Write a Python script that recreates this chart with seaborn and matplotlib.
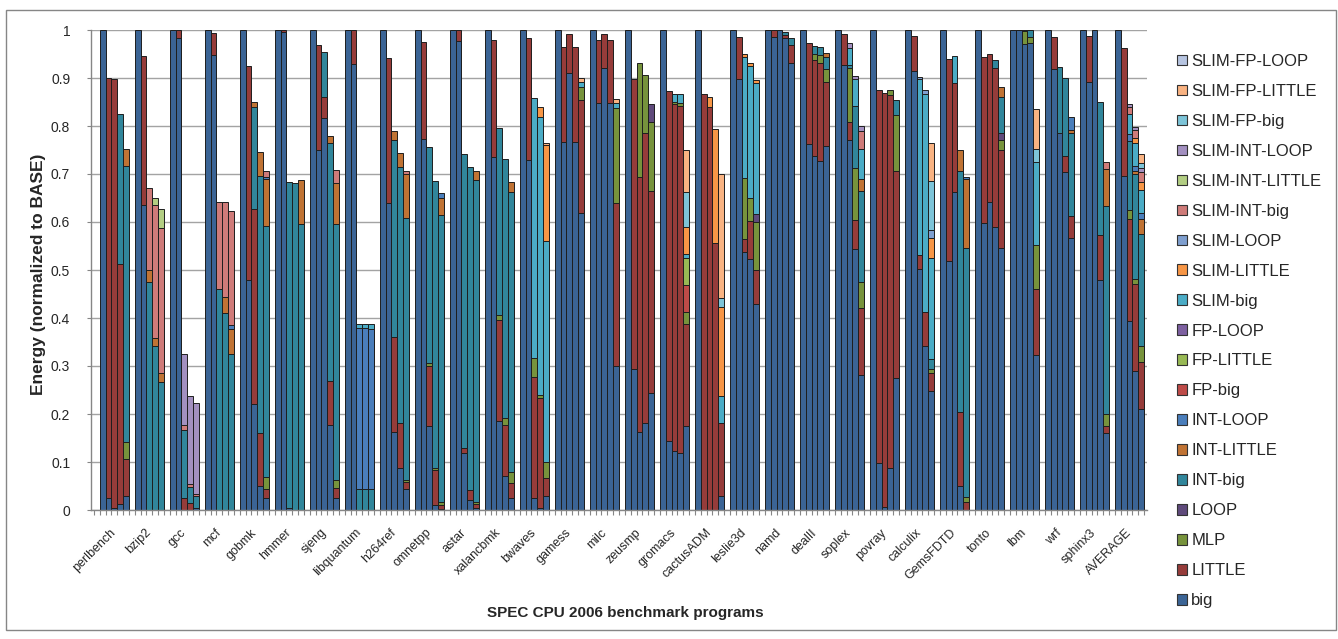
import numpy as np
import pandas as pd
import matplotlib
matplotlib.use("Agg")
import matplotlib.pyplot as plt
from matplotlib.patches import Patch, Rectangle
import seaborn as sns


# ---------------------------------
# 1. DATA
# ---------------------------------

benchmarks = ["perlbench", "bzip2", "gcc", "mcf", "gobmk", "hmmer", "sjeng",
              "libquantum", "h264ref", "omnetpp", "astar", "xalancbmk", "bwaves",
              "gamess", "milc", "zeusmp", "gromacs", "cactusADM", "leslie3d",
              "namd", "dealII", "soplex", "povray", "calculix", "GemsFDTD",
              "tonto", "lbm", "wrf", "sphinx3", "AVERAGE"]

series_codes = {"B": "big", "L": "LITTLE", "M": "MLP", "P": "LOOP",
                "IB": "INT-big", "IL": "INT-LITTLE", "IP": "INT-LOOP",
                "FB": "FP-big", "FL": "FP-LITTLE", "FP": "FP-LOOP",
                "SB": "SLIM-big", "SL": "SLIM-LITTLE", "SP": "SLIM-LOOP",
                "SIB": "SLIM-INT-big", "SIL": "SLIM-INT-LITTLE", "SIP": "SLIM-INT-LOOP",
                "SFB": "SLIM-FP-big", "SFL": "SLIM-FP-LITTLE", "SFP": "SLIM-FP-LOOP"}

series_colors = ["#3B6495", "#963C3A", "#77933C", "#5F4A7B",
                 "#31869B", "#C07334", "#4A7EBB",
                 "#BE4B48", "#98B954", "#7D60A0",
                 "#4BACC6", "#F79646", "#7F9FCF",
                 "#CF7B79", "#B3CE83", "#A390C0",
                 "#7DC4D8", "#F9B382", "#B7C5E1"]

# every bar: list of (series code, cumulative energy at top of that segment)
perlbench = [[("B", 1.0)],
             [("B", .024), ("L", .900)],
             [("B", .004), ("L", .898)],
             [("B", .012), ("L", .512), ("IB", .825)],
             [("B", .030), ("L", .107), ("M", .142), ("IB", .717), ("IL", .752)]]
bzip2 = [[("B", 1.0)],
         [("B", .635), ("L", .946)],
         [("IB", .476), ("IL", .499), ("SIB", .670)],
         [("IB", .342), ("IL", .358), ("SIB", .635), ("SIL", .649)],
         [("IB", .266), ("IL", .285), ("SIB", .588), ("SIL", .628)]]
gcc = [[("B", 1.0)],
       [("B", .983), ("L", 1.0)],
       [("L", .024), ("IB", .167), ("SIB", .177), ("SIP", .325)],
       [("L", .014), ("IB", .047), ("SIB", .054), ("SIP", .238)],
       [("B", .004), ("IB", .030), ("SIB", .033), ("SIP", .222)]]
mcf = [[("B", 1.0)],
       [("B", .948), ("L", .993)],
       [("IB", .460), ("SIB", .642)],
       [("IB", .410), ("IL", .444), ("SIB", .641)],
       [("IB", .326), ("IL", .378), ("IP", .385), ("SIB", .622)]]
gobmk = [[("B", 1.0)],
         [("B", .479), ("L", .925)],
         [("B", .220), ("L", .628), ("IB", .840), ("IL", .849)],
         [("B", .050), ("L", .160), ("IB", .696), ("IL", .745)],
         [("B", .024), ("L", .043), ("M", .069), ("IB", .592), ("IL", .690), ("IP", .694), ("SIB", .707)]]
hmmer = [[("B", 1.0)],
         [("B", .995), ("L", 1.0)],
         [("B", .004), ("IB", .683)],
         [("IB", .681)],
         [("IB", .596), ("IL", .687)]]
sjeng = [[("B", 1.0)],
         [("B", .750), ("L", .969)],
         [("B", .817), ("L", .861), ("IB", .955)],
         [("B", .177), ("L", .269), ("IB", .765), ("IL", .779)],
         [("B", .024), ("L", .045), ("M", .063), ("IB", .596), ("IL", .681), ("SIB", .708)]]
libquantum = [[("B", 1.0)],
              [("B", .930), ("L", 1.0)],
              [("IB", .043), ("IP", .380), ("SB", .387)],
              [("IB", .043), ("IP", .379), ("SB", .387)],
              [("IB", .043), ("IP", .378), ("SB", .387)]]
h264ref = [[("B", 1.0)],
           [("B", .639), ("L", .941)],
           [("B", .163), ("L", .360), ("IB", .771), ("IL", .790)],
           [("B", .088), ("L", .182), ("IB", .714), ("IL", .743)],
           [("B", .043), ("L", .059), ("M", .063), ("IB", .608), ("IL", .700), ("SIB", .706)]]
omnetpp = [[("B", 1.0)],
           [("B", .772), ("L", .976)],
           [("B", .174), ("L", .301), ("M", .306), ("IB", .756)],
           [("B", .010), ("L", .083), ("M", .087), ("IB", .686)],
           [("B", .003), ("L", .010), ("M", .017), ("IB", .615), ("IL", .649), ("IP", .660)]]
astar = [[("B", 1.0)],
         [("B", .977), ("L", .999)],
         [("B", .118), ("L", .130), ("IB", .742)],
         [("B", .021), ("L", .042), ("IB", .715)],
         [("B", .005), ("L", .013), ("M", .017), ("IB", .688), ("IL", .707)]]
xalancbmk = [[("B", 1.0)],
             [("B", .735), ("L", .979)],
             [("B", .185), ("L", .395), ("M", .406), ("IB", .795)],
             [("B", .071), ("L", .177), ("M", .191), ("IB", .731)],
             [("B", .026), ("L", .056), ("M", .080), ("IB", .662), ("IL", .684)]]
bwaves = [[("B", 1.0)],
          [("B", .729), ("L", .983)],
          [("B", .024), ("L", .278), ("M", .316), ("SB", .858)],
          [("B", .004), ("L", .233), ("M", .240), ("SB", .819), ("SL", .840)],
          [("B", .030), ("L", .066), ("M", .101), ("SB", .561), ("SL", .760), ("SFL", .765)]]
gamess = [[("B", 1.0)],
          [("B", .767), ("L", .965)],
          [("B", .910), ("L", .991)],
          [("B", .767), ("L", .965)],
          [("B", .619), ("L", .854), ("M", .881), ("SB", .892), ("SFL", .901)]]
milc = [[("B", 1.0)],
        [("B", .847), ("L", .979)],
        [("B", .920), ("L", .991)],
        [("B", .847), ("L", .979)],
        [("B", .299), ("L", .639), ("M", .837), ("SB", .847), ("SFL", .856)]]
zeusmp = [[("B", 1.0)],
          [("B", .294), ("L", .898)],
          [("B", .162), ("L", .693), ("M", .931)],
          [("B", .181), ("L", .785), ("M", .906)],
          [("B", .243), ("L", .665), ("M", .809), ("P", .845)]]
gromacs = [[("B", 1.0)],
           [("B", .144), ("L", .872)],
           [("B", .122), ("L", .846), ("M", .851), ("SB", .867)],
           [("B", .119), ("L", .842), ("M", .847), ("SB", .867)],
           [("B", .175), ("L", .388), ("M", .412), ("FB", .469), ("FL", .526), ("SB", .533),
            ("SL", .589), ("SFB", .663), ("SFL", .750)]]
cactusADM = [[("B", 1.0)],
             [("L", .866)],
             [("L", .840), ("SL", .860)],
             [("L", .556), ("SL", .793)],
             [("B", .029), ("L", .181), ("SB", .238), ("SL", .422), ("SFB", .441), ("SFL", .701)]]
leslie3d = [[("B", 1.0)],
            [("B", .898), ("L", .986)],
            [("B", .537), ("L", .564), ("M", .691), ("SB", .943), ("SL", .951)],
            [("B", .522), ("L", .602), ("M", .651), ("SB", .925), ("SL", .932)],
            [("B", .429), ("L", .501), ("M", .599), ("P", .616), ("SB", .889), ("SL", .896)]]
namd = [[("B", 1.0)],
        [("B", .986), ("L", .999)],
        [("B", 1.0)],
        [("B", .983), ("L", .990), ("IB", .996)],
        [("B", .932), ("L", .969), ("IB", .983)]]
dealII = [[("B", 1.0)],
          [("B", .762), ("L", .972)],
          [("B", .738), ("L", .938), ("M", .951), ("IB", .967)],
          [("B", .728), ("L", .931), ("M", .948), ("IB", .965)],
          [("B", .758), ("L", .892), ("M", .918), ("IB", .944), ("IL", .953)]]
soplex = [[("B", 1.0)],
          [("B", .928), ("L", .991)],
          [("B", .771), ("L", .809), ("M", .920), ("IB", .927), ("SB", .963), ("SIP", .972)],
          [("B", .543), ("L", .604), ("M", .713), ("IB", .842), ("SB", .897), ("SIP", .904)],
          [("B", .281), ("L", .420), ("M", .476), ("IB", .665), ("IL", .689), ("SB", .752),
           ("SIB", .790), ("SIP", .800)]]
povray = [[("B", 1.0)],
          [("B", .097), ("L", .876)],
          [("B", .007), ("L", .869)],
          [("B", .088), ("L", .865), ("M", .875)],
          [("B", .276), ("L", .707), ("M", .822), ("IB", .854)]]
calculix = [[("B", 1.0)],
            [("B", .915), ("L", .988)],
            [("B", .503), ("L", .531), ("SB", .898), ("SP", .903)],
            [("B", .342), ("L", .413), ("SB", .867), ("SP", .875)],
            [("B", .247), ("L", .286), ("M", .294), ("IB", .315), ("SB", .524), ("SL", .566),
             ("SP", .583), ("SFB", .686), ("SFL", .765)]]
GemsFDTD = [[("B", 1.0)],
            [("B", .519), ("L", .939)],
            [("B", .662), ("L", .890), ("SB", .946)],
            [("B", .051), ("L", .205), ("IB", .707), ("IL", .749)],
            [("L", .017), ("M", .028), ("IB", .545), ("IL", .689), ("IP", .694)]]
tonto = [[("B", 1.0)],
         [("B", .597), ("L", .943)],
         [("B", .641), ("L", .950)],
         [("B", .589), ("L", .920), ("IB", .938)],
         [("B", .545), ("L", .750), ("M", .771), ("P", .785), ("IB", .861), ("IL", .881)]]
lbm = [[("B", 1.0)],
       [("B", .999), ("L", 1.0)],
       [("B", .970), ("M", .997), ("IB", 1.0)],
       [("B", .972), ("M", .986), ("IB", 1.0)],
       [("B", .323), ("L", .460), ("M", .552), ("SB", .724), ("SFB", .753), ("SFL", .835)]]
wrf = [[("B", 1.0)],
       [("B", .919), ("L", .986)],
       [("B", .786), ("IB", .922)],
       [("B", .705), ("L", .738), ("IB", .899)],
       [("B", .566), ("L", .613), ("IB", .786), ("IL", .792), ("IP", .818)]]
sphinx3 = [[("B", 1.0)],
           [("B", .892), ("L", .988)],
           [("B", 1.0)],
           [("B", .479), ("L", .573), ("IB", .851)],
           [("B", .160), ("L", .175), ("M", .201), ("IB", .633), ("IL", .710), ("SIB", .726)]]
AVERAGE = [[("B", 1.0)],
           [("B", .696), ("L", .962)],
           [("B", .394), ("L", .606), ("M", .625), ("IB", .769), ("IP", .783), ("SB", .824),
            ("SIB", .839), ("SIP", .845)],
           [("B", .290), ("L", .471), ("M", .481), ("IB", .700), ("IL", .707), ("IP", .717),
            ("SB", .764), ("SL", .776), ("SIB", .792), ("SIP", .797)],
           [("B", .210), ("L", .308), ("M", .342), ("IB", .576), ("IL", .606), ("IP", .618),
            ("SB", .667), ("SL", .684), ("SIB", .705), ("SIP", .712), ("SFB", .722), ("SFL", .742)]]

groups = [perlbench, bzip2, gcc, mcf, gobmk, hmmer, sjeng, libquantum, h264ref,
          omnetpp, astar, xalancbmk, bwaves, gamess, milc, zeusmp, gromacs,
          cactusADM, leslie3d, namd, dealII, soplex, povray, calculix, GemsFDTD,
          tonto, lbm, wrf, sphinx3, AVERAGE]


# ---------------------------------
# 2. LONG TABLE
# ---------------------------------

SLOTS_PER_GROUP = 6   # five bars + one empty slot

series_names = list(series_codes.values())
palette = dict(zip(series_names, series_colors))

rows = []
for g, bars in enumerate(groups):
    for j, bar in enumerate(bars):
        for k, (code, top) in enumerate(bar):
            rows.append({"slot": SLOTS_PER_GROUP * g + j,
                         "series": series_codes[code],
                         "top": top,
                         "layer": k})
df = pd.DataFrame(rows)
slots = list(range(SLOTS_PER_GROUP * len(benchmarks)))


# ---------------------------------
# 3. PLOT
# ---------------------------------

sns.set_theme(style="white")
plt.rcParams["font.family"] = ["Liberation Sans", "DejaVu Sans"]

W, H = 1338, 639
fig = plt.figure(figsize=(W / 100, H / 100), dpi=100)
ax = fig.add_axes([91 / W, 1 - 510 / H, (1147 - 91) / W, 480 / H])

# stacked look: draw the cumulative tops from the highest layer down
for layer in sorted(df["layer"].unique(), reverse=True):
    sub = df[df["layer"] == layer]
    sns.barplot(data=sub, x="slot", y="top", hue="series", order=slots,
                hue_order=series_names, palette=palette, dodge=False,
                width=1.0, saturation=1, errorbar=None, legend=False,
                edgecolor="#1e1e1e", linewidth=0.7, ax=ax)

ax.set_xlim(-2.0, len(slots) - 1.0)
ax.set_ylim(0, 1)
ax.set_xlabel("")
ax.set_ylabel("")

ax.set_yticks(np.arange(0, 1.01, 0.1))
ax.set_yticklabels([f"{v:g}" for v in np.arange(0, 1.01, 0.1).round(1)], fontsize=10)
ax.tick_params(axis="y", left=True, length=3, width=0.8, color="#868686", pad=12)

ax.set_xticks([SLOTS_PER_GROUP * g + 2 for g in range(len(benchmarks))])
ax.set_xticklabels(benchmarks, rotation=45, ha="right", va="center",
                   rotation_mode="anchor", fontsize=9)
ax.tick_params(axis="x", which="major", bottom=True, length=0, pad=15)
ax.set_xticks(np.arange(-1.5, len(slots) - 1, 1.0), minor=True)
ax.tick_params(axis="x", which="minor", bottom=True, length=3.5, width=0.8,
               color="#868686", direction="out")

ax.yaxis.grid(True, color="#a3a3a3", linewidth=1.0)
ax.xaxis.grid(False)
ax.set_axisbelow(True)
for side in ["top", "right"]:
    ax.spines[side].set_visible(False)
for side in ["left", "bottom"]:
    ax.spines[side].set_color("#868686")
    ax.spines[side].set_linewidth(1.0)

fig.text(39 / W, 1 - 274 / H, "Energy (normalized to BASE)", rotation=90,
         ha="center", va="center", fontsize=12.5, fontweight="bold")
fig.text(625 / W, 1 - 613 / H, "SPEC CPU 2006 benchmark programs",
         ha="center", va="center", fontsize=11, fontweight="bold")

handles = [Patch(facecolor=palette[s], edgecolor="#333333", linewidth=0.8, label=s)
           for s in reversed(series_names)]
fig.legend(handles=handles, loc="upper left", bbox_to_anchor=(1177 / W, 1 - 54 / H),
           bbox_transform=fig.transFigure, frameon=False, fontsize=12,
           borderpad=0, borderaxespad=0, labelspacing=0.897,
           handlelength=0.6, handleheight=0.6, handletextpad=0.25)

fig.patches.append(Rectangle((6 / W, 1 - 630 / H), (1336 - 6) / W, 620 / H,
                             transform=fig.transFigure, fill=False,
                             edgecolor="#868686", linewidth=1.0))

fig.savefig("out.png", dpi=100)
